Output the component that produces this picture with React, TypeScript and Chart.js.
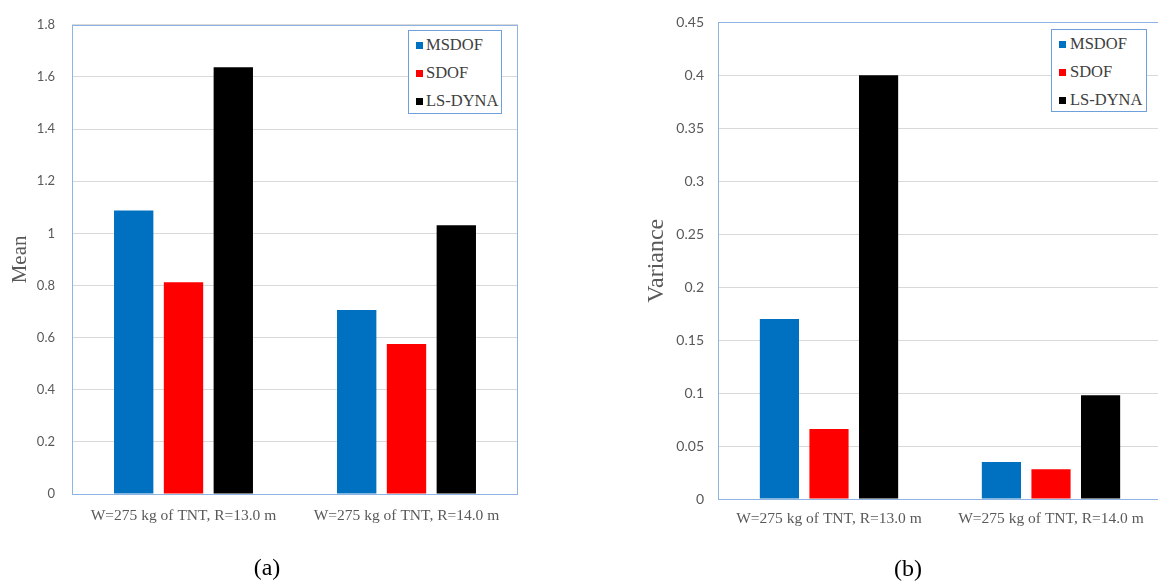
import React, { useEffect, useRef } from "react";
import { Chart, registerables } from "chart.js";

Chart.register(...registerables);

// ---------- data ----------
const categories = ["W=275 kg of TNT, R=13.0 m", "W=275 kg of TNT, R=14.0 m"];
const seriesNames = ["MSDOF", "SDOF", "LS-DYNA"];
const seriesColors = ["#0070C0", "#FF0000", "#000000"];

const meanMSDOF = [1.088, 0.706];
const meanSDOF = [0.812, 0.575];
const meanLSDYNA = [1.637, 1.031];

const varMSDOF = [0.17, 0.035];
const varSDOF = [0.066, 0.028];
const varLSDYNA = [0.4, 0.098];

const meanTicks = { min: 0, max: 1.8, step: 0.2 };
const varTicks = { min: 0, max: 0.45, step: 0.05 };

const GRAY = "#595959";
const BORDER_BLUE = "#8EB4E3";

const plotBorder = {
  id: "plotBorder",
  afterDraw(chart: any) {
    const { ctx, chartArea } = chart;
    ctx.save();
    ctx.strokeStyle = BORDER_BLUE;
    ctx.lineWidth = 1;
    ctx.strokeRect(
      Math.round(chartArea.left) + 0.5,
      Math.round(chartArea.top) + 0.5,
      Math.round(chartArea.right - chartArea.left) - 1,
      Math.round(chartArea.bottom - chartArea.top)
    );
    ctx.restore();
  },
};

type PanelProps = {
  left: number;
  width: number;
  values: number[][];
  ticks: { min: number; max: number; step: number };
  title: string;
  titleSize: number;
  titlePad: number;
  tickSize: number;
  tickPad: number;
  catPad: number;
  padLeft: number;
  padTop: number;
  padRight: number;
  yWidth: number;
  xHeight: number;
};

function Panel(p: PanelProps) {
  const ref = useRef<HTMLCanvasElement | null>(null);
  useEffect(() => {
    if (!ref.current) return;
    const chart = new Chart(ref.current, {
      type: "bar",
      data: {
        labels: categories,
        datasets: seriesNames.map((name, i) => ({
          label: name,
          data: p.values[i],
          backgroundColor: seriesColors[i],
          borderWidth: 0,
          categoryPercentage: 0.67,
          barPercentage: 0.79,
        })),
      },
      options: {
        animation: false,
        responsive: false,
        maintainAspectRatio: false,
        layout: { padding: { left: p.padLeft, top: p.padTop, right: p.padRight, bottom: 0 } },
        plugins: { legend: { display: false }, tooltip: { enabled: false } },
        scales: {
          x: {
            grid: { display: false, drawTicks: false },
            border: { display: false },
            ticks: {
              color: GRAY,
              padding: p.catPad,
              maxRotation: 0,
              font: { family: "'Liberation Serif', 'Times New Roman', serif", size: 15.5 },
            },
            afterFit: (s: any) => {
              s.height = p.xHeight;
            },
          },
          y: {
            min: p.ticks.min,
            max: p.ticks.max,
            grid: { color: "#D9D9D9", drawTicks: false },
            border: { display: false },
            ticks: {
              stepSize: p.ticks.step,
              color: GRAY,
              padding: p.tickPad,
              font: { family: "Lato, 'Open Sans', sans-serif", size: p.tickSize },
              callback: (v: any) => String(Number(Number(v).toFixed(3))),
            },
            title: {
              display: true,
              text: p.title,
              color: GRAY,
              padding: { top: p.titlePad, bottom: 0 },
              font: { family: "'Liberation Serif', 'Times New Roman', serif", size: p.titleSize },
            },
            afterFit: (s: any) => {
              s.width = p.yWidth;
            },
          },
        },
      },
      plugins: [plotBorder],
    });
    return () => chart.destroy();
  }, []);
  return (
    <canvas
      ref={ref}
      width={p.width}
      height={588}
      style={{ position: "absolute", left: p.left, top: 0, width: p.width, height: 588 }}
    />
  );
}

function Legend({ left, top, width, height, gap }: any) {
  return (
    <div
      style={{
        position: "absolute",
        left,
        top,
        width,
        height,
        boxSizing: "border-box",
        border: "1px solid #6FA0DC",
        background: "#fff",
        paddingLeft: 7,
      }}
    >
      {seriesNames.map((n, i) => (
        <div
          key={n}
          style={{
            height: 28,
            display: "flex",
            alignItems: "center",
            fontFamily: "'Liberation Serif', 'Times New Roman', serif",
            fontSize: 16.5,
            color: "#404040",
          }}
        >
          <span
            style={{ display: "inline-block", width: 7, height: 7, background: seriesColors[i], marginRight: gap }}
          />
          {n}
        </div>
      ))}
    </div>
  );
}

const capStyle: React.CSSProperties = {
  position: "absolute",
  fontFamily: "'Liberation Serif', 'Times New Roman', serif",
  fontSize: 24,
  color: "#000",
  transform: "translateX(-50%)",
  whiteSpace: "nowrap",
};

export default function App() {
  return (
    <div
      style={{
        position: "fixed",
        left: 0,
        top: 0,
        width: 1158,
        height: 588,
        overflow: "hidden",
        background: "#fff",
      }}
    >
      <Panel
        left={0}
        width={540}
        values={[meanMSDOF, meanSDOF, meanLSDYNA]}
        ticks={meanTicks}
        title="Mean"
        titleSize={21}
        titlePad={0}
        tickSize={13}
        tickPad={17}
        catPad={13}
        padLeft={8}
        padTop={16}
        padRight={22}
        yWidth={64}
        xHeight={94}
      />
      <Panel
        left={600}
        width={562}
        values={[varMSDOF, varSDOF, varLSDYNA]}
        ticks={varTicks}
        title="Variance"
        titleSize={24}
        titlePad={12}
        tickSize={14}
        tickPad={14}
        catPad={11}
        padLeft={30}
        padTop={14}
        padRight={0}
        yWidth={88}
        xHeight={89}
      />
      <Legend left={408} top={30} width={94} height={84} gap={3} />
      <Legend left={1051} top={29} width={96} height={83} gap={4} />
      <div style={{ ...capStyle, left: 267, top: 554 }}>(a)</div>
      <div style={{ ...capStyle, left: 908, top: 555 }}>(b)</div>
    </div>
  );
}
